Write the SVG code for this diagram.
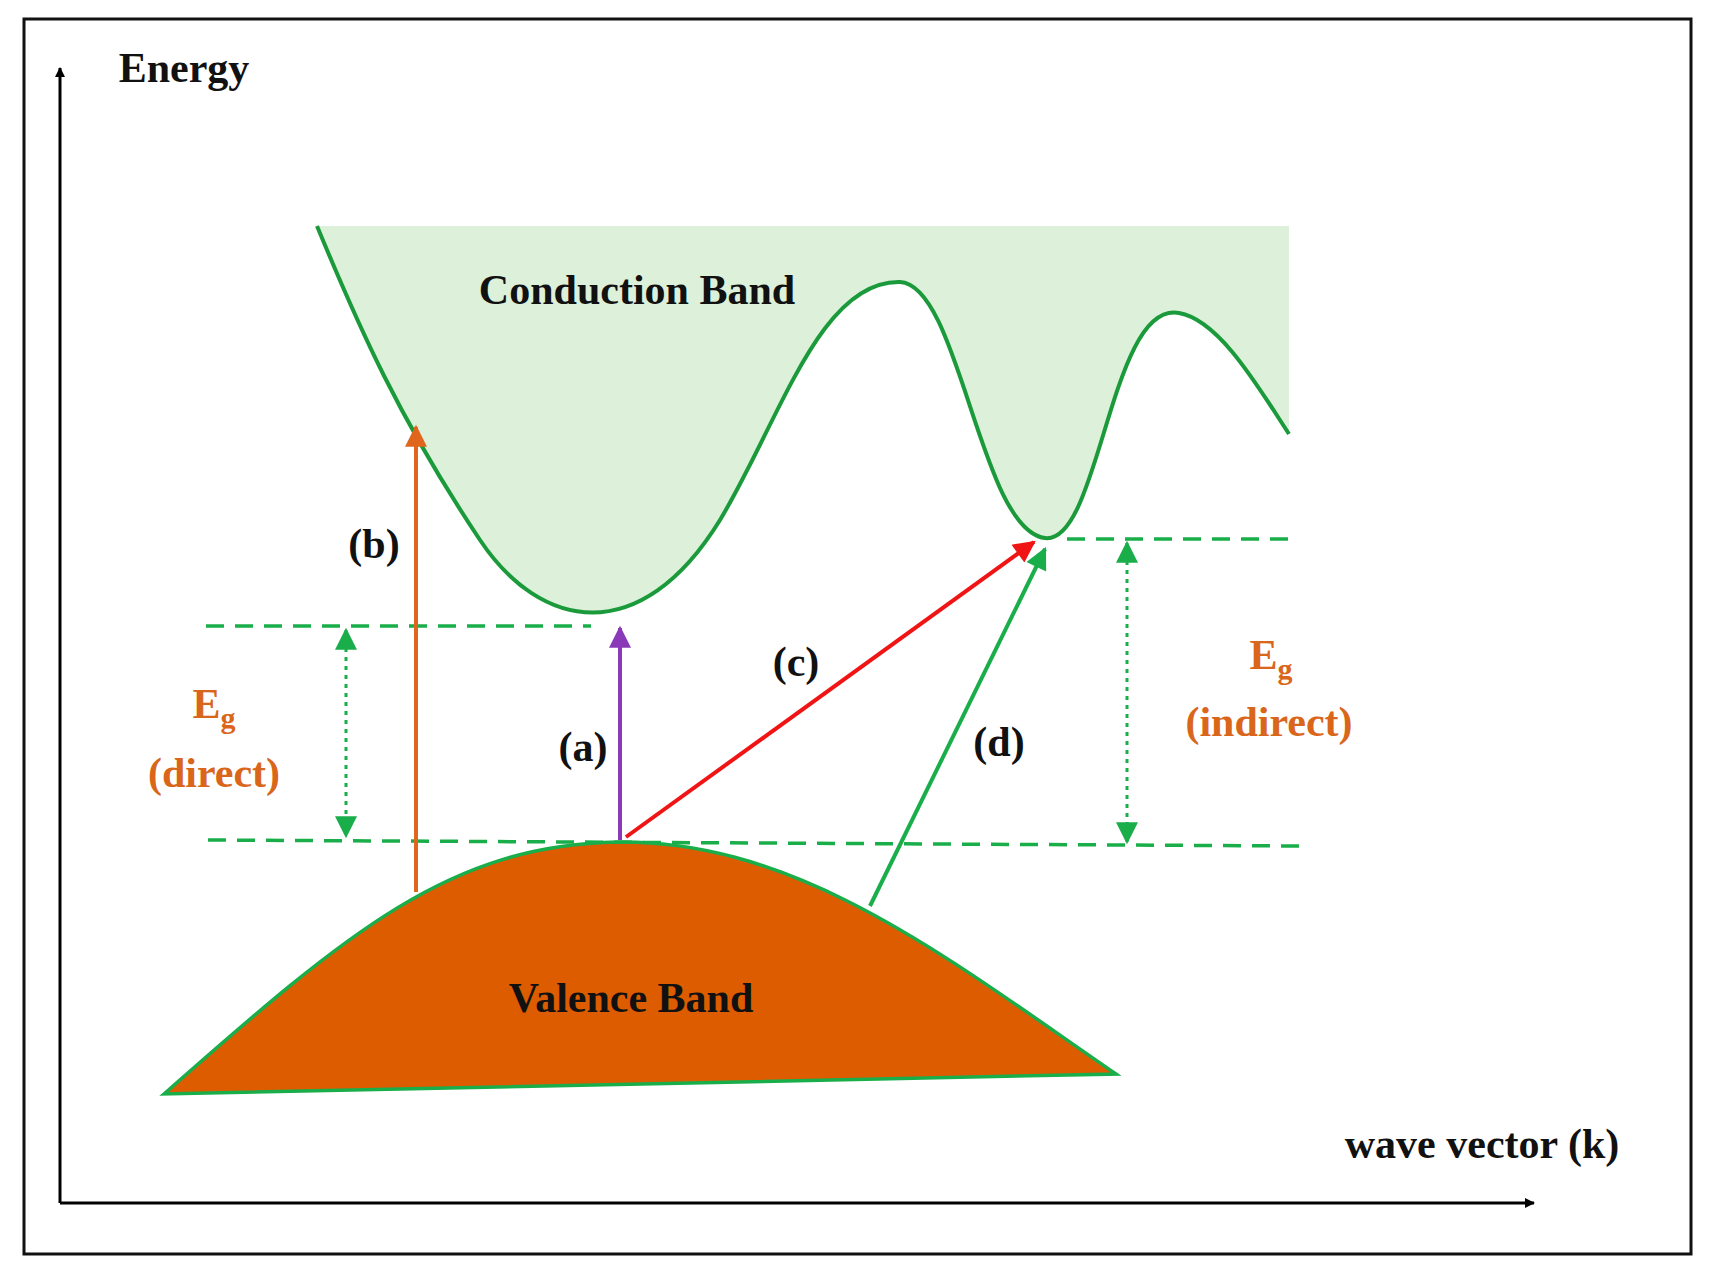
<svg xmlns="http://www.w3.org/2000/svg" width="1715" height="1282" viewBox="0 0 1715 1282">
<defs>
<style>
text{font-family:"Liberation Serif","Times New Roman",serif;font-weight:bold;text-anchor:middle}
.lbl{font-size:42px;fill:#111}
.or{font-size:42px;fill:#d9661a}
.dash{stroke:#1aae4a;stroke-width:3.5;stroke-dasharray:18,11;fill:none}
.dot{stroke:#1aae4a;stroke-width:3;stroke-dasharray:4,5;fill:none}
</style>
<marker id="ak" markerWidth="10" markerHeight="10" refX="9" refY="5" orient="auto" markerUnits="userSpaceOnUse"><path d="M0,0L10,5L0,10z" fill="#000"/></marker>
<marker id="ao" viewBox="0 0 10 10" markerWidth="24" markerHeight="22" refX="9" refY="5" orient="auto" markerUnits="userSpaceOnUse"><path d="M0,0L10,5L0,10z" fill="#e0661e"/></marker>
<marker id="ap" viewBox="0 0 10 10" markerWidth="24" markerHeight="22" refX="9" refY="5" orient="auto" markerUnits="userSpaceOnUse"><path d="M0,0L10,5L0,10z" fill="#8a3ab9"/></marker>
<marker id="ar" viewBox="0 0 10 10" markerWidth="24" markerHeight="22" refX="9" refY="5" orient="auto" markerUnits="userSpaceOnUse"><path d="M0,0L10,5L0,10z" fill="#f01414"/></marker>
<marker id="ag" viewBox="0 0 10 10" markerWidth="24" markerHeight="22" refX="9" refY="5" orient="auto-start-reverse" markerUnits="userSpaceOnUse"><path d="M0,0L10,5L0,10z" fill="#1aae4a"/></marker>
</defs>
<rect x="0" y="0" width="1715" height="1282" fill="#fff"/>
<rect x="24" y="19" width="1667" height="1235" fill="none" stroke="#111" stroke-width="3"/>
<g id="axes">
<line x1="60" y1="1203" x2="60" y2="68" stroke="#000" stroke-width="3" marker-end="url(#ak)"/>
<line x1="60" y1="1203" x2="1534" y2="1203" stroke="#000" stroke-width="3" marker-end="url(#ak)"/>
<text x="184" y="82" class="lbl" font-size="44">Energy</text>
<text x="1482" y="1158" class="lbl">wave vector (k)</text>
</g>
<g id="conduction">
<path d="M317,226 C360,330 400,420 480,540 C540,630 640,650 720,520 C780,420 820,280 900,282 C960,285 980,530 1045,538 C1100,545 1110,300 1179,313 C1220,320 1260,390 1289,434 L1289,226 Z" fill="#dcf0da"/>
<path d="M317,226 C360,330 400,420 480,540 C540,630 640,650 720,520 C780,420 820,280 900,282 C960,285 980,530 1045,538 C1100,545 1110,300 1179,313 C1220,320 1260,390 1289,434" fill="none" stroke="#1a9a3a" stroke-width="4"/>
<text x="637" y="304" class="lbl">Conduction Band</text>
</g>
<g id="valence">
<path d="M164,1094 C350,930 450,845 618,842 C800,840 950,960 1116,1074 Z" fill="#dd5c00" stroke="#1aae4a" stroke-width="3.5"/>
<text x="631" y="1012" class="lbl">Valence Band</text>
</g>
<g id="connectors">
<line x1="206" y1="626" x2="591" y2="626" class="dash"/>
<path d="M208,840 L1302,846" class="dash"/>
<line x1="1067" y1="539" x2="1291" y2="539" class="dash"/>
<line x1="346" y1="630" x2="346" y2="836" class="dot" marker-start="url(#ag)" marker-end="url(#ag)"/>
<line x1="1127" y1="543" x2="1127" y2="842" class="dot" marker-start="url(#ag)" marker-end="url(#ag)"/>
<line x1="416" y1="892" x2="416" y2="427" stroke="#e0661e" stroke-width="4" marker-end="url(#ao)"/>
<line x1="620" y1="840" x2="620" y2="628" stroke="#8a3ab9" stroke-width="4" marker-end="url(#ap)"/>
<line x1="626" y1="837" x2="1034" y2="542" stroke="#f01414" stroke-width="4" marker-end="url(#ar)"/>
<line x1="870" y1="906" x2="1045" y2="549" stroke="#1aae4a" stroke-width="4" marker-end="url(#ag)"/>
</g>
<g id="labels">
<text x="374" y="558" class="lbl">(b)</text>
<text x="583" y="761" class="lbl">(a)</text>
<text x="796" y="676" class="lbl">(c)</text>
<text x="999" y="756" class="lbl">(d)</text>
<text x="214" y="718" class="or">E<tspan font-size="30" dy="10">g</tspan></text>
<text x="214" y="787" class="or">(direct)</text>
<text x="1271" y="669" class="or">E<tspan font-size="30" dy="10">g</tspan></text>
<text x="1269" y="736" class="or">(indirect)</text>
</g>
</svg>
